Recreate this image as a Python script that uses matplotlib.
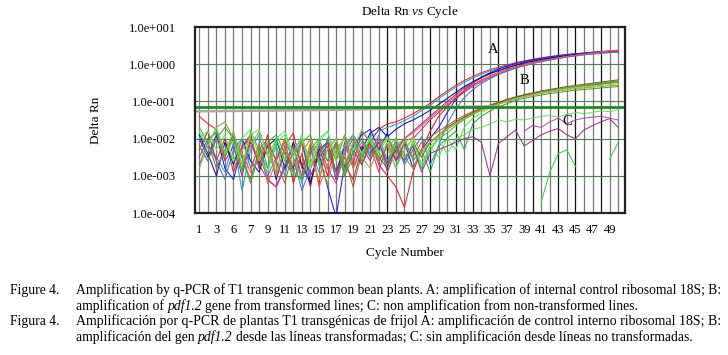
import numpy as np
import matplotlib
matplotlib.use("Agg")
import matplotlib.pyplot as plt

nan = np.nan
cycles = list(range(1, 51))
xtick_pos = list(range(1, 50, 2))
xtick_labels = ["1", "3", "6", "7", "9", "11", "13", "15", "17", "19", "21", "23", "25",
                "27", "29", "31", "33", "35", "37", "39", "41", "43", "45", "47", "49"]
ytick_pos = [1e-4, 1e-3, 1e-2, 1e-1, 1e0, 1e1]
ytick_labels = ["1.0e-004", "1.0e-003", "1.0e-002", "1.0e-001", "1.0e+000", "1.0e+001"]

# log10(Delta Rn) per cycle
A_red1 = [
 -1.40,-1.60,-1.75,-2.50,-1.80,-2.90,-2.00,-2.70,-1.90,-3.10,
 -2.20,-1.85,-2.80,-2.20,-3.20,-2.00,-2.60,-1.90,-2.70,-1.80,
 -2.10,-1.75,-1.60,-1.55,-1.45,-1.33,-1.20,-1.05,-0.88,-0.72,
 -0.57,-0.44,-0.33,-0.23,-0.15,-0.08,-0.02,0.04,0.09,0.13,
 0.17,0.20,0.23,0.26,0.28,0.30,0.32,0.34,0.35,0.37]
A_cyan = [
 -1.90,-2.20,-2.50,-2.90,-2.10,-3.40,-2.30,-1.90,-2.80,-2.20,
 -3.00,-2.10,-3.20,-2.30,-2.90,-2.00,-3.10,-2.30,-1.90,-2.60,
 -1.95,-1.80,-1.70,-1.62,-1.52,-1.40,-1.25,-1.10,-0.93,-0.77,
 -0.62,-0.49,-0.37,-0.27,-0.18,-0.11,-0.05,0.01,0.06,0.10,
 0.14,0.18,0.21,0.24,0.26,0.28,0.30,0.31,0.33,0.34]
A_blue = [
 -2.00,-2.50,-1.90,-2.80,-3.10,-2.20,-2.00,-2.70,-2.10,-3.10,
 -2.30,-2.80,-2.00,-3.20,-2.40,-3.30,-4.10,-2.70,-2.20,-1.90,
 -1.75,-2.30,-1.85,-2.60,-2.10,-2.80,-2.30,-2.00,-1.70,-1.30,
 -0.95,-0.70,-0.50,-0.35,-0.23,-0.13,-0.05,0.02,0.07,0.12,
 0.16,0.20,0.23,0.26,0.28,0.30,0.32,0.34,0.35,0.36]
A_purple = [
 -2.50,-2.00,-1.85,-2.60,-2.20,-3.00,-2.10,-2.70,-3.10,-3.30,
 -2.80,-2.40,-2.10,-3.00,-2.50,-2.20,-3.10,-2.10,-2.80,-2.20,
 -2.60,-2.00,-2.90,-2.30,-2.00,-1.80,-1.60,-1.40,-1.20,-1.00,
 -0.82,-0.64,-0.50,-0.37,-0.26,-0.17,-0.09,-0.02,0.04,0.09,
 0.13,0.17,0.21,0.24,0.27,0.29,0.31,0.33,0.35,0.36]
A_red2 = [
 -2.30,-1.80,-2.60,-2.00,-2.90,-2.20,-1.90,-2.80,-2.10,-2.60,
 -2.00,-3.20,-2.40,-3.30,-2.20,-3.00,-2.10,-2.70,-3.10,-2.30,
 -2.10,-2.70,-3.00,-3.30,-3.85,-2.90,-2.30,-1.80,-1.40,-1.15,
 -0.90,-0.72,-0.56,-0.43,-0.32,-0.22,-0.14,-0.07,-0.01,0.05,
 0.10,0.14,0.18,0.22,0.25,0.28,0.30,0.33,0.35,0.37]
A_navy = [
 -1.90,-2.40,-3.00,-2.10,-2.70,-2.00,-2.60,-2.90,-2.20,-2.00,
 -2.80,-2.10,-2.70,-3.20,-2.30,-2.10,-2.90,-2.20,-1.90,-2.30,
 -1.85,-1.70,-1.95,-1.75,-1.60,-1.50,-1.38,-1.24,-1.08,-0.92,
 -0.76,-0.60,-0.47,-0.35,-0.25,-0.17,-0.10,-0.03,0.03,0.08,
 0.12,0.16,0.20,0.23,0.26,0.28,0.30,0.32,0.33,0.35]
A_magenta = [
 nan,nan,nan,nan,nan,nan,nan,-2.40,-3.10,-3.30,
 -2.70,-2.20,-3.00,-2.40,-2.10,-2.80,-3.20,-2.40,-2.00,-2.70,
 -2.20,-2.90,-2.10,-2.60,-2.30,-2.00,-1.75,-1.50,-1.30,-1.10,
 -0.92,-0.75,-0.60,-0.47,-0.36,-0.26,-0.18,-0.10,-0.04,0.02,
 0.07,0.12,0.16,0.20,0.23,0.26,0.29,0.31,0.33,0.35]
A_steel = [
 -2.70,-2.10,-2.60,-3.10,-2.30,-2.00,-2.80,-2.20,-3.00,-2.50,
 -2.10,-2.50,-3.40,-2.80,-2.20,-2.60,-2.10,-2.80,-2.40,-2.00,
 -2.40,-1.90,-2.60,-2.10,-2.70,-2.30,-1.95,-2.70,-2.20,-1.60,
 -1.20,-0.90,-0.68,-0.52,-0.39,-0.28,-0.19,-0.11,-0.04,0.02,
 0.07,0.11,0.15,0.19,0.22,0.25,0.27,0.29,0.31,0.32]
A_red3 = [
 -2.20,-2.60,-2.00,-2.50,-1.90,-2.40,-2.90,-2.10,-3.20,-2.60,
 -2.10,-2.90,-2.40,-2.00,-3.30,-2.70,-2.20,-3.00,-2.50,-2.10,
 -2.50,-2.00,-2.70,-2.20,-2.00,-1.85,-1.65,-1.45,-1.25,-1.05,
 -0.86,-0.70,-0.55,-0.43,-0.32,-0.23,-0.15,-0.08,-0.02,0.04,
 0.09,0.13,0.17,0.21,0.24,0.27,0.30,0.33,0.36,0.38]

B_green = [
 -1.70,-2.10,-1.80,-2.50,-2.00,-2.90,-1.80,-2.30,-2.80,-2.00,
 -2.60,-3.00,-2.10,-1.90,-2.70,-2.30,-2.00,-2.90,-2.10,-2.50,
 -1.95,-2.40,-2.70,-2.00,-2.50,-2.20,-2.80,-2.30,-2.00,-1.85,
 -1.65,-1.48,-1.35,-1.24,-1.15,-1.06,-0.98,-0.91,-0.85,-0.80,
 -0.75,-0.71,-0.67,-0.63,-0.60,-0.57,-0.54,-0.51,-0.48,-0.45]
B_olive = [
 -2.80,-2.20,-1.70,-1.55,-2.00,-2.70,-2.20,-1.80,-2.40,-2.90,
 -2.00,-2.50,-3.10,-2.10,-2.60,-3.20,-2.30,-2.00,-2.80,-2.40,
 -2.10,-2.60,-2.20,-2.00,-2.50,-2.80,-2.30,-2.10,-1.95,-1.75,
 -1.58,-1.44,-1.32,-1.22,-1.13,-1.05,-0.97,-0.90,-0.84,-0.79,
 -0.74,-0.70,-0.66,-0.63,-0.60,-0.57,-0.55,-0.53,-0.51,-0.49]
B_brown = [
 nan,-2.10,-2.80,-2.30,-1.90,-2.50,-3.10,-2.30,-2.00,-2.60,
 -3.20,-2.30,-2.00,-2.80,-2.40,-2.10,-2.90,-2.50,-3.30,-2.40,
 -2.10,-2.60,-2.20,-2.80,-2.10,-2.50,-2.10,-1.95,-1.80,-1.65,
 -1.50,-1.38,-1.27,-1.18,-1.10,-1.02,-0.95,-0.89,-0.84,-0.79,
 -0.75,-0.71,-0.68,-0.65,-0.62,-0.59,-0.56,-0.53,-0.50,-0.47]
B_lime = [
 -2.00,-1.80,-2.30,-1.90,-2.60,-2.00,-1.75,-2.50,-2.90,-2.10,
 -1.90,-2.50,-2.00,-2.80,-2.10,-1.80,-2.60,-2.20,-1.90,-2.40,
 -2.00,-2.50,-2.10,-2.80,-2.30,-2.00,-2.70,-2.20,-2.50,-2.00,
 -2.30,-1.70,-1.45,-1.30,-1.18,-1.08,-1.00,-0.93,-0.87,-0.82,
 -0.77,-0.73,-0.69,-0.66,-0.63,-0.61,-0.59,-0.57,-0.55,-0.53]
B_darkolive = [
 nan,nan,nan,nan,nan,nan,nan,nan,nan,nan,
 nan,nan,nan,nan,nan,nan,nan,nan,-2.30,-2.70,
 -2.10,-2.50,-2.80,-2.20,-2.60,-2.10,-2.50,-2.10,-1.90,-1.70,
 -1.55,-1.42,-1.30,-1.20,-1.11,-1.03,-0.95,-0.88,-0.82,-0.77,
 -0.72,-0.68,-0.64,-0.60,-0.57,-0.54,-0.51,-0.48,-0.45,-0.42]
B_green2 = [
 -2.20,-2.60,-2.00,-1.70,-2.00,-2.50,-3.20,-2.40,-2.10,-1.90,
 -2.40,-2.90,-3.10,-2.30,-2.00,-2.60,-2.10,-3.00,-2.30,-2.00,
 -2.50,-2.10,-1.95,-2.40,-2.00,-2.60,-2.30,-2.90,-2.20,-2.00,
 -1.80,-2.30,-1.60,-1.40,-1.26,-1.15,-1.06,-0.98,-0.92,-0.87,
 -0.83,-0.79,-0.76,-0.73,-0.70,-0.68,-0.66,-0.64,-0.62,-0.60]
B_ochre = [
 nan,nan,nan,nan,-2.80,-2.30,-2.00,-2.60,-2.10,-3.00,
 -2.30,-2.70,-2.10,-2.50,-3.10,-2.30,-2.00,-2.70,-2.10,-2.50,
 -2.80,-2.20,-2.00,-2.50,-2.10,-1.95,-2.40,-2.10,-1.90,-1.75,
 -1.60,-1.46,-1.34,-1.24,-1.15,-1.07,-1.00,-0.94,-0.88,-0.83,
 -0.79,-0.75,-0.72,-0.69,-0.66,-0.64,-0.62,-0.60,-0.58,-0.57]

C_green_hi = [
 -1.80,-2.20,-1.70,-2.40,-1.80,-2.70,-1.90,-1.75,-2.50,-2.00,
 -1.80,-2.40,-1.90,-2.70,-2.00,-1.80,-2.50,-1.90,-2.30,-1.75,
 -2.10,-2.40,-1.95,-2.30,-2.60,-2.10,-2.70,-2.20,-2.00,-2.40,
 -2.00,-1.90,-1.75,-1.70,-1.60,-1.50,-1.55,-1.48,-1.50,-1.45,
 -1.40,-1.38,-1.42,-1.35,-1.30,-1.33,-1.30,-1.25,-1.28,-1.22]
C_purple_lo = [
 nan,nan,nan,nan,nan,nan,nan,nan,nan,nan,
 nan,nan,nan,nan,nan,nan,nan,nan,nan,nan,
 -2.40,-2.10,-2.70,-2.30,-2.60,-2.20,-2.90,-2.40,-2.30,-2.20,
 -2.10,-2.00,-1.95,-2.10,-3.00,-2.13,-1.95,-1.77,-2.20,-2.05,
 -1.90,-1.80,-1.73,-1.90,-2.00,-1.77,-1.65,-1.55,-1.46,-1.70]
C_purple_hi = [
 nan,nan,nan,nan,nan,nan,nan,nan,nan,nan,
 nan,nan,nan,nan,nan,nan,nan,nan,nan,nan,
 nan,nan,nan,nan,nan,nan,nan,nan,nan,nan,
 nan,nan,nan,nan,nan,nan,nan,nan,-1.80,-1.65,
 -1.70,-1.55,-1.45,-1.60,-1.50,-1.45,-1.42,-1.40,-1.45,-1.50]
C_green_lo = [
 nan,nan,nan,nan,nan,nan,nan,nan,nan,nan,
 nan,nan,nan,nan,nan,nan,nan,nan,nan,nan,
 nan,nan,nan,nan,nan,nan,nan,nan,nan,nan,
 nan,nan,nan,nan,nan,nan,nan,nan,nan,nan,
 -3.70,-2.90,-2.40,-2.30,-2.75,nan,nan,nan,-2.55,-2.10]

series = [
    (A_red1, "#ee2222"), (A_cyan, "#2a9fc8"), (A_blue, "#1a1aee"), (A_purple, "#993399"),
    (A_red2, "#dd2020"), (A_navy, "#101090"), (A_magenta, "#cc3388"), (A_steel, "#4477cc"),
    (A_red3, "#ff5555"),
    (B_green, "#22cc22"), (B_olive, "#a0a030"), (B_brown, "#996633"), (B_lime, "#55ee55"),
    (B_darkolive, "#666633"), (B_green2, "#33aa33"), (B_ochre, "#cc9933"),
    (C_green_hi, "#66dd66"), (C_purple_lo, "#993399"), (C_purple_hi, "#aa55aa"),
    (C_green_lo, "#44cc44"),
]

threshold = 0.072
baseline_x = [0.5, 10, 20, 28, 36]
baseline_y = [0.054, 0.057, 0.061, 0.070, 0.074]
dark_cycles = [23, 28, 31, 33, 36, 38, 40, 43, 45, 48]
group_labels = ["A", "B", "C"]
group_label_x = [35.4, 39.1, 44.0]
group_label_y = [2.5, 0.37, 0.028]

plt.rcParams['font.family'] = ['Liberation Serif', 'DejaVu Serif']
plt.rcParams['mathtext.fontset'] = 'custom'
plt.rcParams['mathtext.rm'] = 'Liberation Serif'
plt.rcParams['mathtext.it'] = 'Liberation Serif:italic'

W, H = 728, 355
fig = plt.figure(figsize=(W / 100, H / 100), dpi=100)
ax = fig.add_axes([195 / W, 1 - 213 / H, 430 / W, 186 / H])
ax.set_yscale('log')
ax.set_xlim(0.5, 50.8)
ax.set_ylim(1e-4, 1e1)

for c in cycles:
    col = '#111111' if c in dark_cycles else '#7a7a7a'
    ax.axvline(c, color=col, lw=0.9, zorder=1)
for yv in ytick_pos[1:-1]:
    ax.axhline(yv, color='#4f7f4f', lw=0.8, zorder=1)

for vals, col in series:
    ax.plot(cycles, 10 ** np.array(vals), color=col, lw=0.75, zorder=3)

ax.plot(baseline_x, baseline_y, color='#a8a8a8', lw=1.8, zorder=4)
ax.axhline(threshold, color='#1f8a1f', lw=2.0, zorder=5)

for t, x, y in zip(group_labels, group_label_x, group_label_y):
    ax.text(x, y, t, fontsize=10.5, ha='center', va='center', zorder=6)

ax.set_xticks(xtick_pos)
ax.set_xticklabels(xtick_labels, fontsize=9)
ax.set_yticks(ytick_pos)
ax.set_yticklabels(ytick_labels, fontsize=9)
ax.minorticks_off()
ax.tick_params(axis='both', length=0)
ax.tick_params(axis='y', pad=14)
ax.tick_params(axis='x', pad=8)
for s in ax.spines.values():
    s.set_linewidth(1.6)
    s.set_color('#222222')
    s.set_zorder(7)

fig.text(410 / W, 1 - 12 / H, r"Delta Rn $\mathit{vs}$ Cycle", ha='center', va='center', fontsize=9.5)
fig.text(96 / W, 1 - 120 / H, "Delta Rn", rotation=90, ha='center', va='center', fontsize=9.5)
fig.text(405 / W, 1 - 253 / H, "Cycle Number", ha='center', va='center', fontsize=9.5)

cap_family = ['DejaVu Serif Condensed', 'Liberation Serif']
cap1a = "Figure 4."
cap1 = [("Amplification by q-PCR of T1 transgenic common bean plants. A: amplification of internal control ribosomal 18S; B:", 'normal')]
cap2 = [("amplification of", 'normal'), ("pdf1.2", 'italic'),
        ("gene from transformed lines; C: non amplification from non-transformed lines.", 'normal')]
cap3a = "Figura 4."
cap3 = [("Amplificación por q-PCR de plantas T1 transgénicas de frijol A: amplificación de control interno ribosomal 18S; B:", 'normal')]
cap4 = [("amplificación del gen", 'normal'), ("pdf1.2", 'italic'),
        ("desde las líneas transformadas; C: sin amplificación desde líneas no transformadas.", 'normal')]

renderer = fig.canvas.get_renderer()

def width_of(s, fs, style='normal'):
    t = fig.text(0, 0, s, fontsize=fs, style=style, family=cap_family)
    w = t.get_window_extent(renderer).width
    t.remove()
    return w

def draw_line(x_px, y_px, segs, fs):
    space = width_of("a a", fs) - width_of("aa", fs)
    x = x_px
    for i, (s, style) in enumerate(segs):
        if i > 0:
            x += space
        t = fig.text(x / W, 1 - y_px / H, s, fontsize=fs, style=style,
                     family=cap_family, ha='left', va='baseline')
        x += t.get_window_extent(renderer).width

base_fs = 9.0
fs1 = base_fs * (722 - 76) / width_of(cap1[0][0], base_fs)
fs3 = base_fs * (722 - 76) / width_of(cap3[0][0], base_fs)
ys = [294, 310, 325, 341]
fig.text(10 / W, 1 - ys[0] / H, cap1a, fontsize=fs1, family=cap_family, ha='left', va='baseline')
draw_line(76, ys[0], cap1, fs1)
draw_line(76, ys[1], cap2, fs1)
fig.text(10 / W, 1 - ys[2] / H, cap3a, fontsize=fs1, family=cap_family, ha='left', va='baseline')
draw_line(76, ys[2], cap3, fs3)
draw_line(76, ys[3], cap4, fs1)

fig.savefig("out.png", dpi=100)
